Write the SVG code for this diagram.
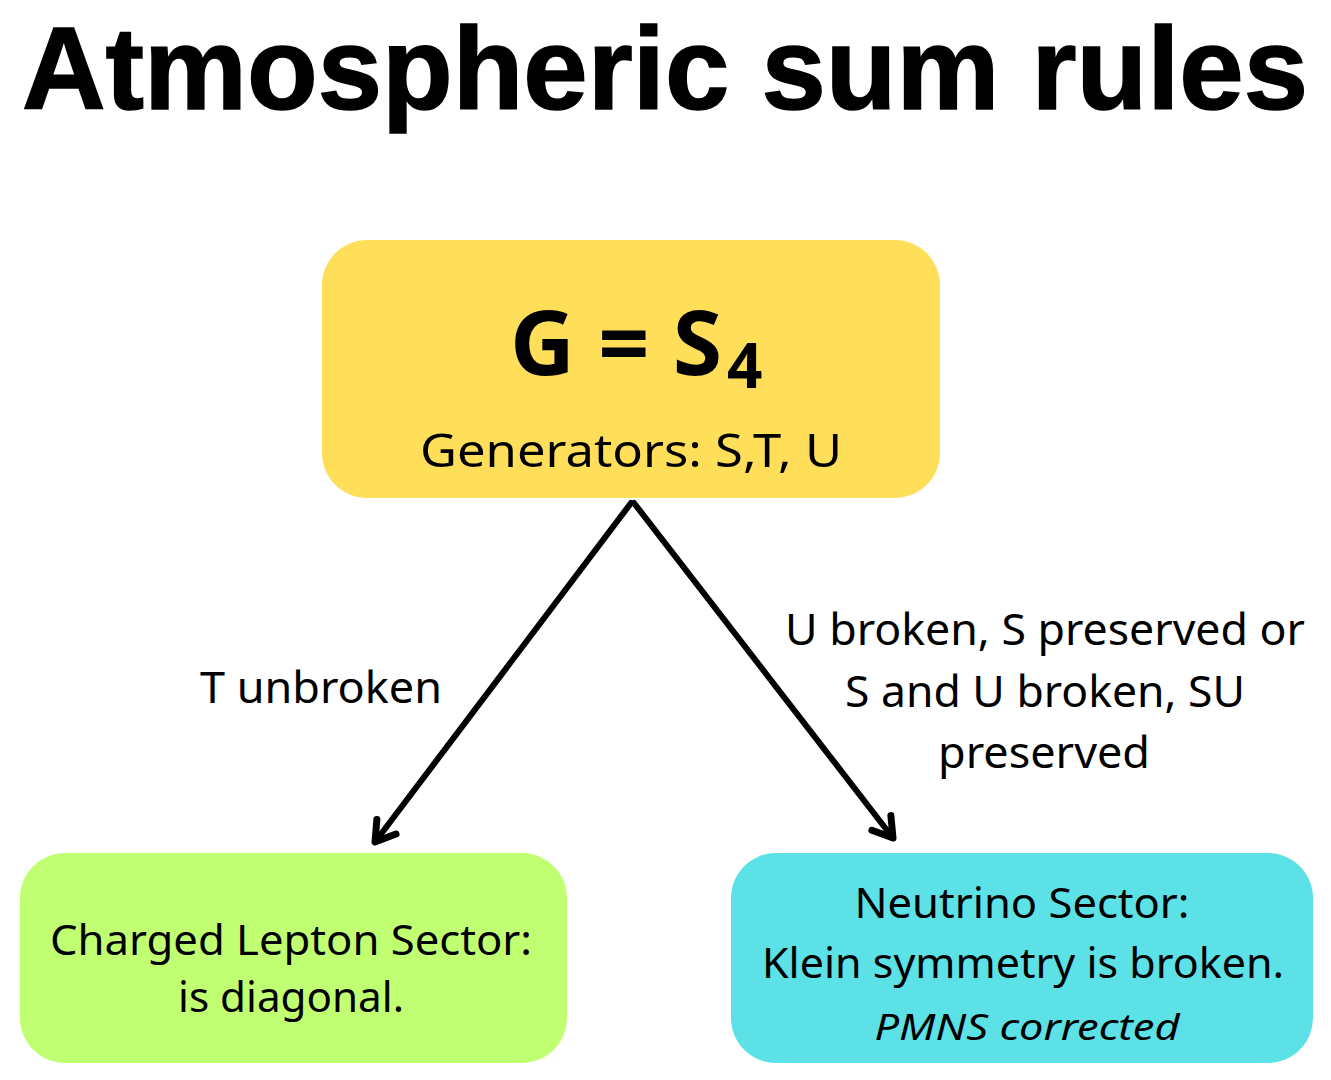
<svg xmlns="http://www.w3.org/2000/svg" width="1331" height="1080" viewBox="0 0 1331 1080">
<defs>
<style>
.t{font-family:"Noto Sans","Open Sans",sans-serif;fill:#000;}
.lbl{font-size:43px;}
.box{font-size:41px;}
.conn{stroke:#000;stroke-width:6;fill:none;stroke-linecap:round;}
</style>
<marker id="ah" viewBox="0 0 20 20" refX="16" refY="10" markerWidth="20" markerHeight="20" markerUnits="userSpaceOnUse" orient="auto" overflow="visible">
<path d="M-3,-2 L16,10 L-3,22" fill="none" stroke="#000" stroke-width="7" stroke-linecap="round" stroke-linejoin="round"/>
</marker>
</defs>
<rect width="1331" height="1080" fill="#fff"/>
<g id="title">
<text x="22" y="109" font-family="'Liberation Sans',Arial,sans-serif" font-weight="bold" font-size="117" stroke="#000" stroke-width="1.5" textLength="1286" lengthAdjust="spacingAndGlyphs">Atmospheric sum rules</text>
</g>
<g id="connectors">
<line class="conn" x1="631" y1="503" x2="375" y2="842" marker-end="url(#ah)"/>
<line class="conn" x1="634" y1="503" x2="893" y2="838" marker-end="url(#ah)"/>
<text class="t lbl" x="200" y="703" textLength="242" lengthAdjust="spacingAndGlyphs">T unbroken</text>
<text class="t lbl" x="1045" y="645" text-anchor="middle" textLength="520" lengthAdjust="spacingAndGlyphs">U broken, S preserved or</text>
<text class="t lbl" x="1045" y="707" text-anchor="middle" textLength="400" lengthAdjust="spacingAndGlyphs">S and U broken, SU</text>
<text class="t lbl" x="1044" y="768" text-anchor="middle" textLength="212" lengthAdjust="spacingAndGlyphs">preserved</text>
</g>
<g id="node-g">
<rect x="322" y="240" width="618" height="258" rx="45" fill="#FFDE59"/>
<text class="t" x="510" y="375" font-weight="bold" font-size="90" textLength="212" lengthAdjust="spacingAndGlyphs">G = S</text>
<text class="t" x="727" y="388" font-weight="bold" font-size="62">4</text>
<text class="t" x="631" y="467" text-anchor="middle" font-size="46" textLength="422" lengthAdjust="spacingAndGlyphs">Generators: S,T, U</text>
</g>
<g id="node-charged">
<rect x="20" y="853" width="547" height="210" rx="45" fill="#C1FF72"/>
<text class="t box" x="291" y="955" text-anchor="middle" textLength="482" lengthAdjust="spacingAndGlyphs">Charged Lepton Sector:</text>
<text class="t box" x="291" y="1012" text-anchor="middle" textLength="226" lengthAdjust="spacingAndGlyphs">is diagonal.</text>
</g>
<g id="node-neutrino">
<rect x="731" y="853" width="582" height="210" rx="45" fill="#5CE1E6"/>
<text class="t box" x="1022" y="918" text-anchor="middle" textLength="335" lengthAdjust="spacingAndGlyphs">Neutrino Sector:</text>
<text class="t box" x="1023" y="978" text-anchor="middle" textLength="522" lengthAdjust="spacingAndGlyphs">Klein symmetry is broken.</text>
<text class="t" x="1027" y="1040" text-anchor="middle" font-style="italic" font-size="37" textLength="305" lengthAdjust="spacingAndGlyphs">PMNS corrected</text>
</g>
</svg>
